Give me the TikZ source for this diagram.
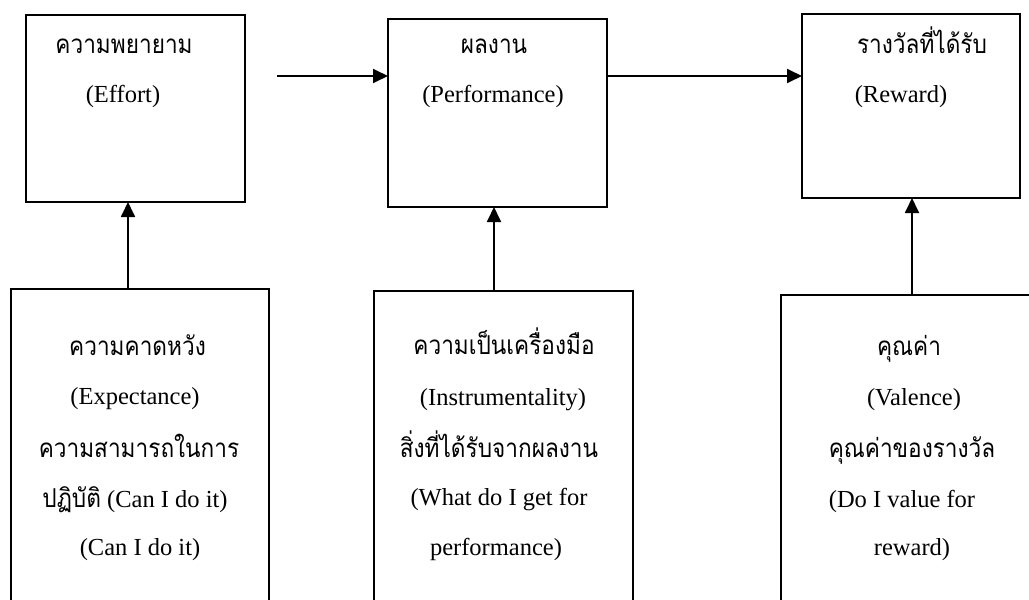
\documentclass[tikz,border=0pt]{standalone}
\usepackage{fontspec}
\setmainfont{Liberation Serif}
\newfontfamily\thai[Script=Thai,FakeStretch=0.87]{Loma}
\usetikzlibrary{arrows.meta}
\begin{document}
\begin{tikzpicture}[x=1pt,y=-1pt,
  box/.style={draw=black,line width=1.8pt,rectangle,inner sep=0pt,outer sep=0pt},
  lbox/.style={draw=black,line width=1.5pt,rectangle,inner sep=0pt,outer sep=0pt},
  arr/.style={line width=1.8pt,-{Triangle[length=15pt,width=14pt]}},
  th/.style={anchor=base,inner sep=0pt,font=\thai\fontsize{26}{30}\selectfont},
  en/.style={anchor=base,inner sep=0pt,font=\fontsize{24.5}{28}\selectfont}]
\useasboundingbox (0,0) rectangle (1029,600);
\clip (0,0) rectangle (1029,600);
% top boxes
\node[box,minimum width=219pt,minimum height=187pt] (b1) at (135.5,108.5) {};
\node[box,minimum width=219pt,minimum height=188pt] (b2) at (497.5,113) {};
\node[box,minimum width=218pt,minimum height=184pt] (b3) at (911,106) {};
% bottom boxes
\node[lbox,minimum width=258pt,minimum height=331pt] (b4) at (140,454.5) {};
\node[lbox,minimum width=259pt,minimum height=329pt] (b5) at (503.5,455.5) {};
\node[lbox,minimum width=269pt,minimum height=325pt] (b6) at (915.5,457.5) {};
% texts top
\node[th] (t1a) at (124,53) {ความพยายาม};
\node[en] (t1b) at (123,102.5) {(Effort)};
\node[th] (t2a) at (494,53) {ผลงาน};
\node[en] (t2b) at (493,102.5) {(Performance)};
\node[th] (t3a) at (922,53) {รางวัลที่ได้รับ};
\node[en] (t3b) at (901,102.5) {(Reward)};
% texts bottom left
\node[th] (t4a) at (137.5,355) {ความคาดหวัง};
\node[en] (t4b) at (135,404) {(Expectance)};
\node[th] (t4c) at (139,457) {ความสามารถในการ};
\node[en] (t4d) at (135,507) {{\thai\fontsize{26}{30}\selectfont ปฏิบัติ} (Can I do it)};
\node[en] (t4e) at (140,555) {(Can I do it)};
% texts bottom middle
\node[th] (t5a) at (504,354) {ความเป็นเครื่องมือ};
\node[en] (t5b) at (503,405) {(Instrumentality)};
\node[th] (t5c) at (499,457) {สิ่งที่ได้รับจากผลงาน};
\node[en] (t5d) at (499,505) {(What do I get for};
\node[en] (t5e) at (496,555) {performance)};
% texts bottom right
\node[th] (t6a) at (909,355) {คุณค่า};
\node[en] (t6b) at (914,405) {(Valence)};
\node[th] (t6c) at (912,457) {คุณค่าของรางวัล};
\node[en] (t6d) at (902,507) {(Do I value for};
\node[en] (t6e) at (912,555) {reward)};
% connectors
\coordinate (s1) at (277,76);
\draw[arr] (s1) -- (s1 -| b2.west);
\draw[arr] (b2.east |- s1) -- (b3.west |- s1);
\coordinate (v1) at (128,0);
\coordinate (v2) at (494,0);
\coordinate (v3) at (912,0);
\draw[arr] (b4.north -| v1) -- (b1.south -| v1);
\draw[arr] (b5.north -| v2) -- (b2.south -| v2);
\draw[arr] (b6.north -| v3) -- (b3.south -| v3);
\end{tikzpicture}
\end{document}
